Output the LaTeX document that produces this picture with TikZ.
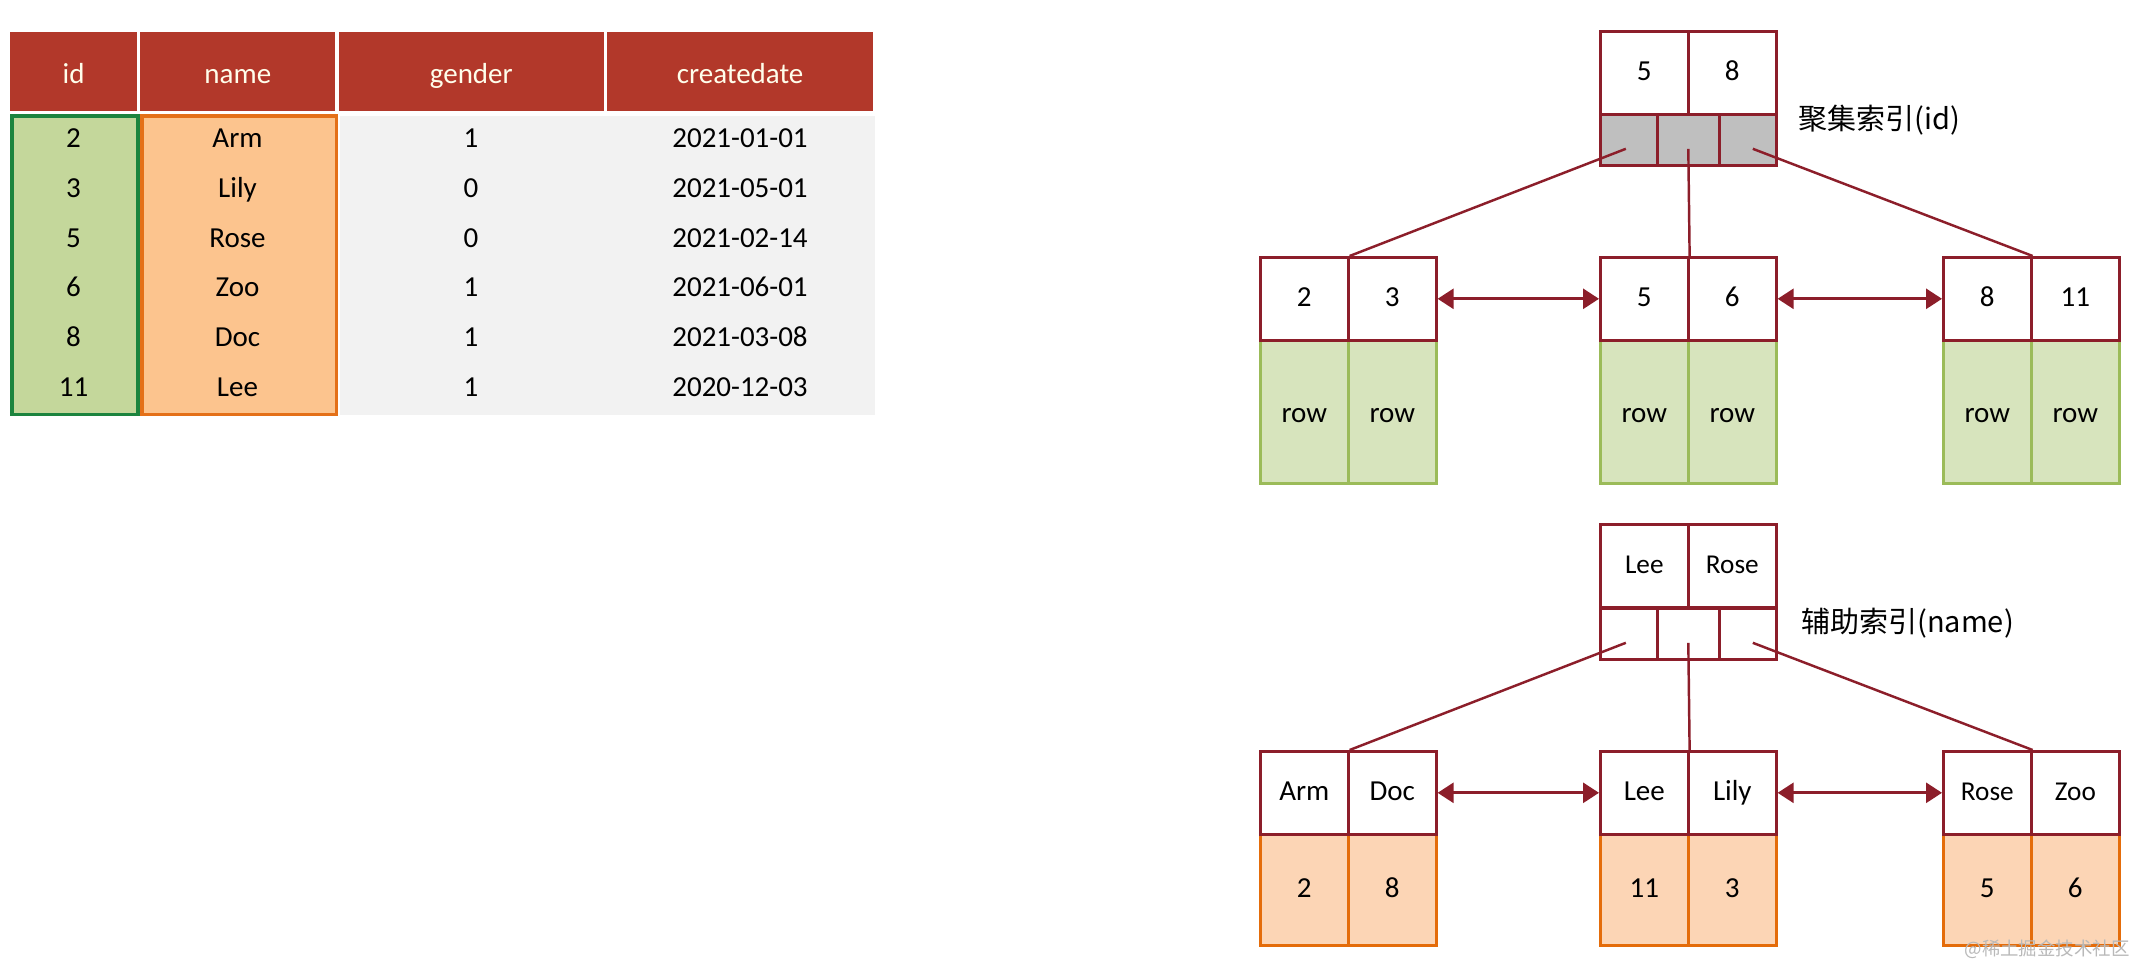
\documentclass[tikz,border=0pt]{standalone}
\usepackage{fontspec}
\setmainfont{Carlito}
\newfontfamily\cjkfont{Noto Sans CJK SC}
\usetikzlibrary{arrows.meta}

\definecolor{hdrred}{RGB}{178,56,42}
\definecolor{boxred}{RGB}{140,30,42}
\definecolor{tabgreen}{RGB}{196,215,155}
\definecolor{tabgreenline}{RGB}{28,132,62}
\definecolor{taborange}{RGB}{252,196,142}
\definecolor{taborangeline}{RGB}{228,112,24}
\definecolor{tabgray}{RGB}{242,242,242}
\definecolor{leafgreen}{RGB}{215,228,189}
\definecolor{leafgreenline}{RGB}{155,187,89}
\definecolor{leaforange}{RGB}{252,213,181}
\definecolor{leaforangeline}{RGB}{228,108,10}
\definecolor{ptrgray}{RGB}{191,191,191}

\newcommand{\tabfont}{\fontsize{16.5}{19}\selectfont}
\newcommand{\treefont}{\fontsize{16.5}{19}\selectfont}
\newcommand{\smalltreefont}{\fontsize{15.5}{18}\selectfont}
\newcommand{\lblfont}{\cjkfont\fontsize{16.5}{20}\selectfont}

\tikzset{
  hdr/.style={fill=hdrred, text=white!92!yellow, minimum height=1.59cm, inner sep=0pt, anchor=north west, font=\tabfont, text height=1.4em, text depth=0pt},
  tabcol/.style={minimum height=5.98cm, inner sep=0pt, anchor=north west, line width=2pt},
  tabtxt/.style={inner sep=0pt, font=\tabfont, text height=0.63em, text depth=0pt},
  cell/.style={line width=1.5pt, minimum width=1.76cm, inner sep=0pt, anchor=north west, text height=0.9em, text depth=0pt},
  keycell/.style={cell, draw=boxred, fill=white, minimum height=1.66cm},
  rowcell/.style={cell, draw=leafgreenline, fill=leafgreen, minimum height=2.86cm, text height=1.2em},
  valcell/.style={cell, draw=leaforangeline, fill=leaforange, minimum height=2.22cm},
  ptrcell/.style={cell, draw=boxred, minimum height=1.02cm},
  idxlabel/.style={anchor=west, inner sep=0pt, font=\lblfont},
  link/.style={draw=boxred, line width=1.4pt},
  sibling/.style={link, line width=1.6pt, {Triangle[length=0.32cm,width=0.4cm]}-{Triangle[length=0.32cm,width=0.4cm]}},
}

\begin{document}
\begin{tikzpicture}[x=0.02cm, y=-0.02cm, font=\treefont]
    \path[use as bounding box, fill=white] (0,0) rectangle (2136,966);

    % user table
    \node[hdr, minimum width=2.53cm] (hid) at (10,31.5) {id};
    \node[hdr, minimum width=3.9cm] (hname) at (140,31.5) {name};
    \node[hdr, minimum width=5.3cm] (hgender) at (338.5,31.5) {gender};
    \node[hdr, minimum width=5.33cm] (hdate) at (606.5,31.5) {createdate};
    \node[tabcol, fill=tabgray, minimum width=10.69cm] (restcol) at (338.5,114) {};
    \node[tabcol, draw=tabgreenline, fill=tabgreen, minimum width=2.53cm] (idcol) at (10,114) {};
    \node[tabcol, draw=taborangeline, fill=taborange, minimum width=3.9cm] (namecol) at (140,114) {};
    \foreach \id/\nm/\gd/\dt [count=\i from 0] in {2/Arm/1/2021-01-01, 3/Lily/0/2021-05-01, 5/Rose/0/2021-02-14, 6/Zoo/1/2021-06-01, 8/Doc/1/2021-03-08, 11/Lee/1/2020-12-03} {
        \node[tabtxt] (id\i) at (73.5,142+49.8*\i) {\id};
        \node[tabtxt] (nm\i) at (237.5,142+49.8*\i) {\nm};
        \node[tabtxt] (gd\i) at (471,142+49.8*\i) {\gd};
        \node[tabtxt] (dt\i) at (740,142+49.8*\i) {\dt};
    }

    % clustered index
    \node[keycell] (ck1) at (1599,30) {5};
    \node[keycell] (ck2) at (1687,30) {8};
    \node[ptrcell, fill=ptrgray, minimum width=1.14cm] (cp1) at (1599,113) {};
    \node[ptrcell, fill=ptrgray, minimum width=1.24cm] (cp2) at (1656,113) {};
    \node[ptrcell, fill=ptrgray, minimum width=1.14cm] (cp3) at (1718,113) {};
    \node[idxlabel] (cidx) at (1798,120) {聚集索引(id)};
    \foreach \lx/\nm/\ka/\kb in {1259/ca/2/3, 1599/cb/5/6, 1942/cc/8/11} {
        \node[rowcell] (\nm r1) at (\lx,339) {row};
        \node[rowcell] (\nm r2) at (\lx+88,339) {row};
        \node[keycell] (\nm k1) at (\lx,256) {\ka};
        \node[keycell] (\nm k2) at (\lx+88,256) {\kb};
    }
    \draw[link] ([shift={(-3,9)}]cp1.center) -- (cak1.north east);
    \draw[link] ([shift={(0,9)}]cp2.center) -- (cbk1.north east);
    \draw[link] ([shift={(5,9)}]cp3.center) -- (cck1.north east);
    \draw[sibling] (cak2.east) -- (cbk1.west);
    \draw[sibling] (cbk2.east) -- (cck1.west);

    % secondary index
    \node[keycell, font=\smalltreefont] (sk1) at (1599,523) {Lee};
    \node[keycell, font=\smalltreefont] (sk2) at (1687,523) {Rose};
    \node[ptrcell, fill=white, minimum width=1.14cm] (sp1) at (1599,607) {};
    \node[ptrcell, fill=white, minimum width=1.24cm] (sp2) at (1656,607) {};
    \node[ptrcell, fill=white, minimum width=1.14cm] (sp3) at (1718,607) {};
    \node[idxlabel] (sidx) at (1801,623) {辅助索引(name)};
    \foreach \lx/\nm/\ka/\kb/\va/\vb/\fs in {1259/sa/Arm/Doc/2/8/\treefont, 1599/sb/Lee/Lily/11/3/\treefont, 1942/sc/Rose/Zoo/5/6/\smalltreefont} {
        \node[valcell] (\nm v1) at (\lx,833) {\va};
        \node[valcell] (\nm v2) at (\lx+88,833) {\vb};
        \node[keycell, font=\fs] (\nm k1) at (\lx,750) {\ka};
        \node[keycell, font=\fs] (\nm k2) at (\lx+88,750) {\kb};
    }
    \draw[link] ([shift={(-3,9)}]sp1.center) -- (sak1.north east);
    \draw[link] ([shift={(0,9)}]sp2.center) -- (sbk1.north east);
    \draw[link] ([shift={(5,9)}]sp3.center) -- (sck1.north east);
    \draw[sibling] (sak2.east) -- (sbk1.west);
    \draw[sibling] (sbk2.east) -- (sck1.west);

    \node[anchor=east, inner sep=0pt, text=gray!55, font=\cjkfont\fontsize{10.5}{12}\selectfont] (wmark) at (2130,949) {@稀土掘金技术社区};
\end{tikzpicture}
\end{document}
